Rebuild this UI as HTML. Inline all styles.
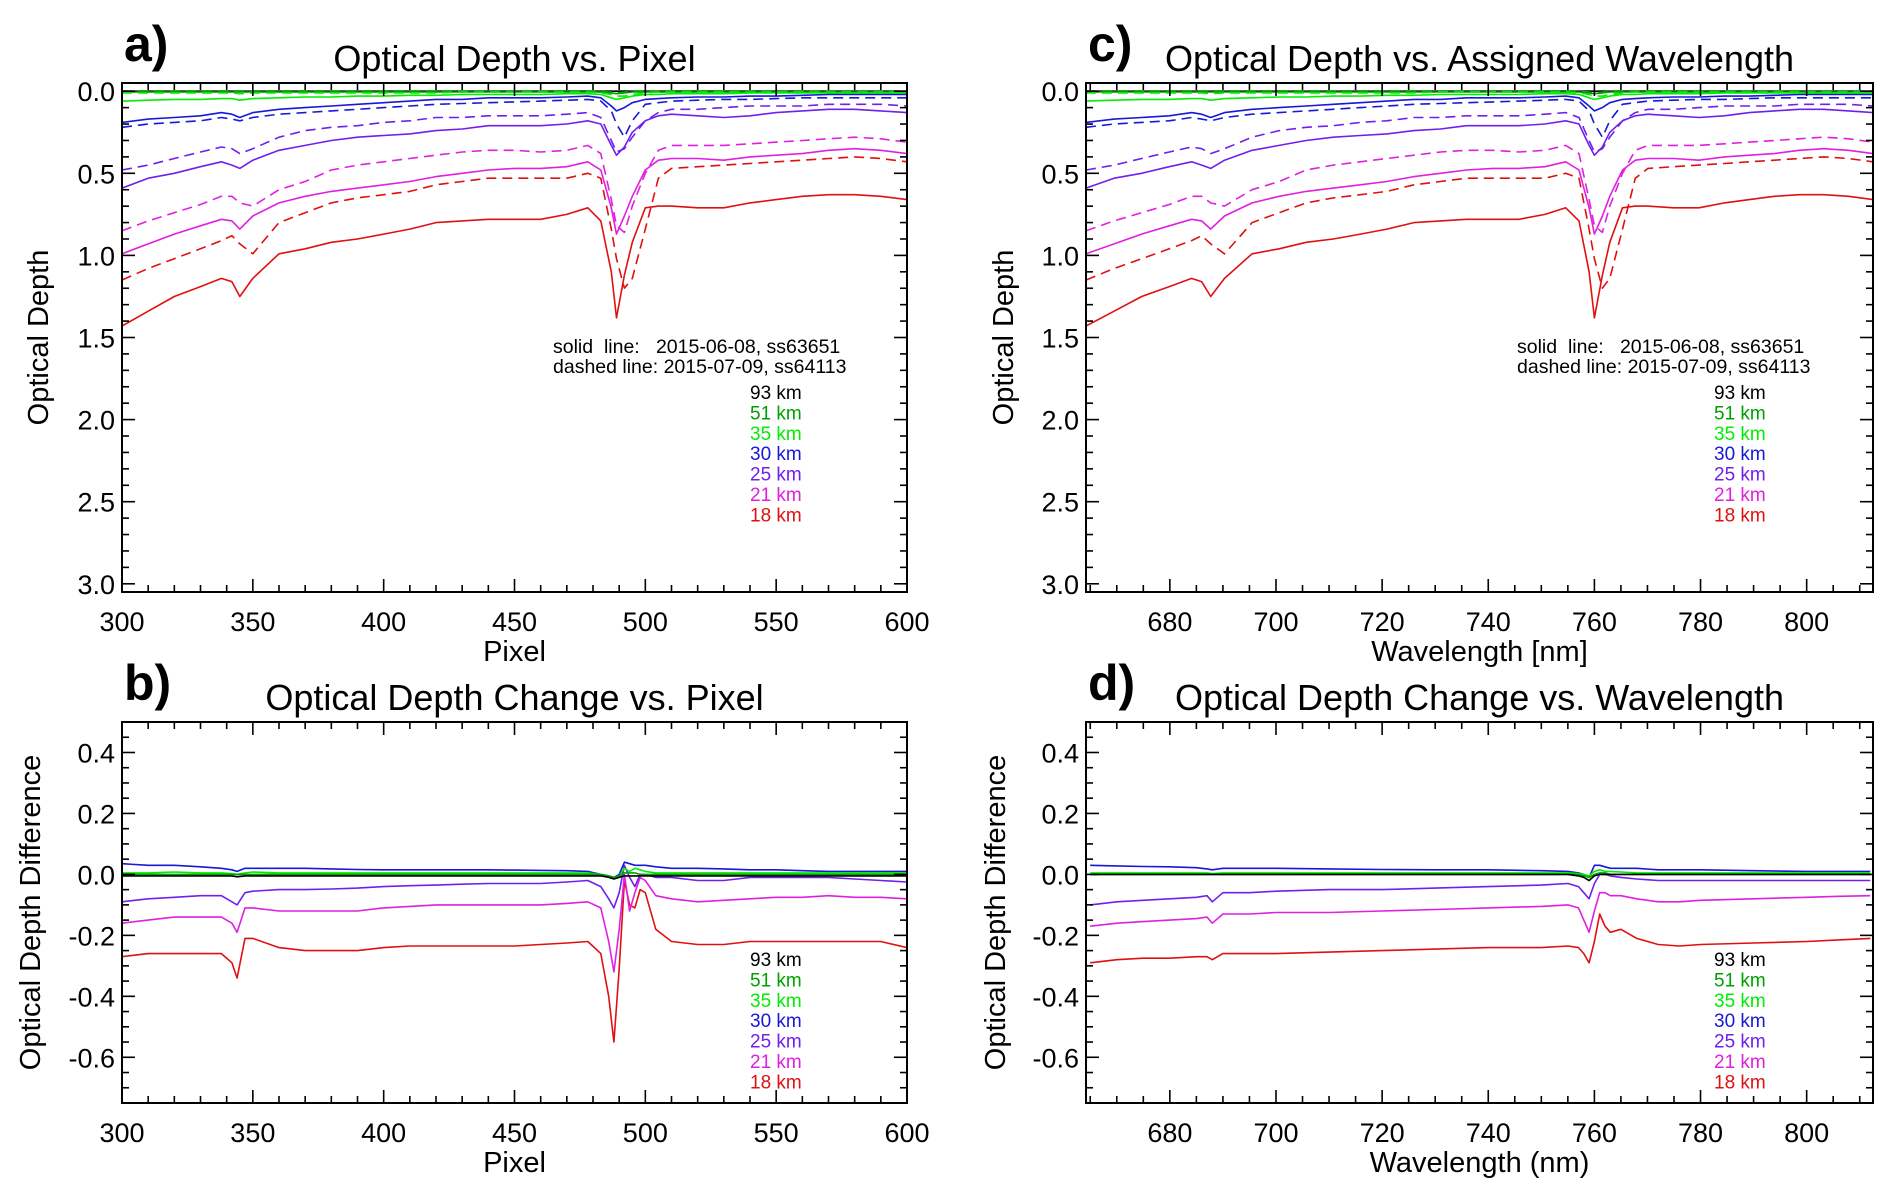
<!DOCTYPE html>
<html><head><meta charset="utf-8"><title>Optical Depth</title>
<style>
html,body{margin:0;padding:0;background:#fff;}
svg{display:block;font-family:"Liberation Sans",Arial,sans-serif;}
</style></head>
<body>
<svg id="fig" width="1892" height="1197" viewBox="0 0 1892 1197" xmlns="http://www.w3.org/2000/svg">
<rect x="0" y="0" width="1892" height="1197" fill="#fff"/>
<g id="g-a"></g>
<g id="g-b"></g>
<g id="g-c"></g>
<g id="g-d"></g>
</svg>
<script>
// ---- Panel a / c data (optical depth vs pixel; wavelength assigned per pixel) ----
const aPix = [300,310,320,330,338,342,345,350,360,370,380,390,400,410,420,430,440,450,460,470,478,483,487,489,492,495,500,505,510,520,530,540,550,560,570,580,590,600];
const aWl  = [664.2,669.5,674.7,679.9,684.1,686.0,687.7,690.3,695.5,700.6,705.7,710.8,715.9,720.9,726.0,731.0,735.9,740.9,745.8,750.7,754.6,757.1,759.0,760.0,761.5,762.9,765.3,767.7,770.1,774.9,779.7,784.5,789.2,793.9,798.6,803.2,807.9,812.5];
const altLabels = ["93 km","51 km","35 km","30 km","25 km","21 km","18 km"];
const altColors = ["#000000","#00a000","#00ee00","#1818d8","#7020ee","#e020e0","#e01010"];
const solid93 = [0,0,0,0,0,0,0,0,0,0,0,0,0,0,0,0,0,0,0,0,0,0,0,0,0,0,0,0,0,0,0,0,0,0,0,0,0,0];
const solid51 = [0.005,0.005,0.005,0.005,0.005,0.005,0.005,0.005,0.005,0.005,0.005,0.005,0.005,0.005,0.005,0.005,0.005,0.005,0.005,0.005,0.005,0.005,0.01,0.015,0.01,0.005,0.005,0.005,0.005,0.005,0.005,0.005,0.005,0.005,0.005,0.005,0.005,0.005];
const solid35 = [0.06,0.055,0.05,0.05,0.045,0.045,0.055,0.045,0.04,0.035,0.035,0.03,0.03,0.025,0.025,0.02,0.02,0.02,0.02,0.015,0.015,0.02,0.04,0.05,0.04,0.03,0.02,0.02,0.015,0.015,0.015,0.01,0.01,0.01,0.01,0.01,0.01,0.01];
const solid30 = [0.19,0.17,0.16,0.15,0.13,0.14,0.16,0.13,0.11,0.10,0.09,0.08,0.07,0.06,0.05,0.05,0.04,0.04,0.04,0.035,0.03,0.04,0.09,0.12,0.10,0.07,0.05,0.045,0.04,0.035,0.035,0.03,0.03,0.025,0.02,0.02,0.02,0.02];
const solid25 = [0.59,0.53,0.50,0.46,0.43,0.45,0.47,0.42,0.36,0.33,0.30,0.28,0.27,0.26,0.24,0.23,0.21,0.21,0.21,0.20,0.18,0.20,0.33,0.39,0.34,0.25,0.18,0.15,0.14,0.15,0.16,0.15,0.13,0.12,0.11,0.11,0.12,0.13];
const solid21 = [0.99,0.93,0.87,0.82,0.78,0.79,0.84,0.76,0.68,0.64,0.61,0.59,0.57,0.55,0.52,0.50,0.48,0.47,0.47,0.46,0.43,0.48,0.71,0.87,0.76,0.64,0.48,0.42,0.41,0.41,0.42,0.40,0.39,0.38,0.36,0.35,0.36,0.38];
const solid18 = [1.43,1.34,1.25,1.19,1.14,1.16,1.25,1.14,0.99,0.96,0.92,0.90,0.87,0.84,0.80,0.79,0.78,0.78,0.78,0.75,0.71,0.79,1.10,1.38,1.12,0.92,0.71,0.70,0.70,0.71,0.71,0.68,0.66,0.64,0.63,0.63,0.64,0.66];
const dash93 = [0,0,0,0,0,0,0,0,0,0,0,0,0,0,0,0,0,0,0,0,0,0,0,0,0,0,0,0,0,0,0,0,0,0,0,0,0,0];
const dash51 = [0,0,0,0,0,0,0,0,0,0,0,0,0,0,0,0,0,0,0,0,0,0,0.005,0.01,0.005,0,0,0,0,0,0,0,0,0,0,0,0,0];
const dash35 = [0.01,0.01,0.01,0.01,0.01,0.01,0.015,0.01,0.01,0.01,0.01,0.01,0.01,0.01,0.01,0.005,0.005,0.005,0.005,0.005,0.005,0.01,0.02,0.03,0.03,0.02,0.01,0.005,0.005,0.005,0.005,0.005,0.005,0.005,0.005,0.005,0.005,0.005];
const dash30 = [0.22,0.20,0.19,0.18,0.16,0.17,0.18,0.16,0.14,0.13,0.12,0.11,0.10,0.09,0.08,0.075,0.07,0.065,0.06,0.055,0.05,0.06,0.12,0.20,0.28,0.18,0.08,0.07,0.06,0.055,0.05,0.05,0.045,0.04,0.04,0.04,0.04,0.04];
const dash25 = [0.48,0.45,0.41,0.37,0.34,0.35,0.38,0.35,0.28,0.24,0.22,0.21,0.19,0.18,0.16,0.16,0.15,0.15,0.15,0.14,0.13,0.16,0.30,0.37,0.35,0.28,0.18,0.13,0.11,0.11,0.10,0.09,0.09,0.09,0.08,0.08,0.08,0.09];
const dash21 = [0.85,0.79,0.74,0.69,0.64,0.64,0.68,0.70,0.60,0.55,0.48,0.45,0.43,0.41,0.39,0.37,0.36,0.36,0.37,0.36,0.33,0.38,0.66,0.82,0.86,0.70,0.50,0.36,0.33,0.33,0.33,0.32,0.31,0.30,0.29,0.28,0.29,0.31];
const dash18 = [1.15,1.08,1.02,0.96,0.91,0.88,0.93,0.99,0.80,0.74,0.68,0.65,0.63,0.61,0.57,0.55,0.53,0.53,0.53,0.53,0.50,0.53,0.84,1.02,1.20,1.14,0.84,0.53,0.47,0.46,0.45,0.44,0.43,0.42,0.41,0.40,0.41,0.43];

// ---- Panel b data (difference vs pixel) ----
const bPix = [300,310,320,330,338,342,344,347,350,360,370,380,390,400,410,420,430,440,450,460,470,478,483,486,488,490,492,494,496,498,500,504,510,520,530,540,550,560,570,580,590,600];
const bDiff93 = [-0.005,-0.005,-0.005,-0.005,-0.005,-0.005,-0.008,-0.005,-0.005,-0.005,-0.005,-0.005,-0.005,-0.005,-0.005,-0.005,-0.005,-0.005,-0.005,-0.005,-0.005,-0.005,-0.005,-0.01,-0.015,-0.01,-0.005,-0.005,-0.005,-0.005,-0.005,-0.005,-0.005,-0.005,-0.005,-0.005,-0.005,-0.005,-0.005,-0.005,-0.005,-0.005];
const bDiff51 = [0,0,0,0,0,0,0,0,0,0,0,0,0,0,0,0,0,0,0,0,0,0,0,-0.005,-0.01,-0.005,0.005,0.005,0.005,0,0,0,0,0,0,0,0,0,0,0,0,0];
const bDiff35 = [0.005,0.005,0.008,0.005,0.005,0.003,0,0.005,0.008,0.005,0.005,0.005,0.005,0.005,0.005,0.005,0.005,0.005,0.005,0.005,0.005,0.005,0,-0.005,-0.01,-0.005,0.02,0.01,0.02,0.015,0.01,0.005,0.005,0.005,0.005,0.005,0.005,0.005,0.005,0.005,0.005,0.005];
const bDiff30 = [0.035,0.03,0.03,0.025,0.02,0.015,0.01,0.02,0.02,0.02,0.02,0.018,0.016,0.015,0.015,0.015,0.015,0.015,0.014,0.013,0.012,0.01,0,-0.005,-0.01,0,0.04,0.035,0.03,0.03,0.03,0.025,0.02,0.02,0.018,0.015,0.015,0.012,0.01,0.01,0.01,0.01];
const bDiff25 = [-0.09,-0.08,-0.075,-0.07,-0.07,-0.09,-0.10,-0.06,-0.055,-0.05,-0.05,-0.048,-0.045,-0.04,-0.037,-0.035,-0.032,-0.03,-0.03,-0.03,-0.025,-0.02,-0.04,-0.08,-0.11,-0.06,0.03,-0.01,-0.04,0,0,-0.01,-0.01,-0.02,-0.02,-0.01,-0.01,-0.01,-0.01,-0.015,-0.02,-0.025];
const bDiff21 = [-0.16,-0.15,-0.14,-0.14,-0.14,-0.16,-0.19,-0.11,-0.11,-0.12,-0.12,-0.12,-0.12,-0.11,-0.105,-0.10,-0.10,-0.10,-0.10,-0.10,-0.095,-0.09,-0.11,-0.22,-0.32,-0.18,0,-0.12,-0.06,-0.01,-0.02,-0.07,-0.08,-0.09,-0.085,-0.08,-0.075,-0.075,-0.07,-0.075,-0.075,-0.08];
const bDiff18 = [-0.27,-0.26,-0.26,-0.26,-0.26,-0.29,-0.34,-0.21,-0.21,-0.24,-0.25,-0.25,-0.25,-0.24,-0.235,-0.235,-0.235,-0.235,-0.235,-0.23,-0.225,-0.22,-0.26,-0.40,-0.55,-0.31,-0.02,-0.10,-0.11,-0.05,-0.06,-0.18,-0.22,-0.23,-0.23,-0.22,-0.22,-0.22,-0.22,-0.22,-0.22,-0.24];

// ---- Panel d data (difference vs wavelength) ----
const dWl = [665,670,675,680,685,687,688,690,695,700,710,720,730,740,750,755,757,758,759,760,761,762,763,765,768,772,776,780,790,800,806,812];
const dDiff93 = [0,0,0,0,0,0,0,0,0,0,0,0,0,0,0,0,-0.005,-0.01,-0.02,-0.005,0,0,0,0,0,0,0,0,0,0,0,0];
const dDiff51 = [0,0,0,0,0,0,0,0,0,0,0,0,0,0,0,0,0,-0.005,-0.01,0,0.005,0.005,0,0,0,0,0,0,0,0,0,0];
const dDiff35 = [0.005,0.005,0.005,0.005,0.005,0.005,0.003,0.005,0.005,0.005,0.005,0.005,0.005,0.005,0.005,0.005,0.003,0,-0.005,0.01,0.015,0.01,0.01,0.008,0.005,0.005,0.005,0.005,0.005,0.005,0.005,0.005];
const dDiff30 = [0.03,0.028,0.026,0.025,0.022,0.018,0.015,0.02,0.02,0.02,0.018,0.016,0.015,0.015,0.012,0.01,0.005,0,-0.01,0.03,0.03,0.025,0.02,0.02,0.02,0.015,0.015,0.015,0.012,0.01,0.01,0.01];
const dDiff25 = [-0.10,-0.09,-0.085,-0.08,-0.075,-0.07,-0.09,-0.06,-0.06,-0.055,-0.05,-0.05,-0.045,-0.04,-0.035,-0.03,-0.04,-0.06,-0.08,-0.03,0,0,-0.005,-0.01,-0.015,-0.02,-0.02,-0.02,-0.02,-0.02,-0.02,-0.02];
const dDiff21 = [-0.17,-0.16,-0.155,-0.15,-0.145,-0.14,-0.16,-0.13,-0.13,-0.125,-0.125,-0.12,-0.115,-0.11,-0.105,-0.10,-0.11,-0.15,-0.19,-0.12,-0.06,-0.06,-0.07,-0.07,-0.08,-0.09,-0.09,-0.085,-0.08,-0.075,-0.072,-0.07];
const dDiff18 = [-0.29,-0.28,-0.275,-0.275,-0.27,-0.27,-0.28,-0.26,-0.26,-0.26,-0.255,-0.25,-0.245,-0.24,-0.24,-0.235,-0.24,-0.26,-0.29,-0.22,-0.13,-0.17,-0.19,-0.18,-0.21,-0.23,-0.235,-0.23,-0.225,-0.22,-0.215,-0.21];

const pixTicks = [300,350,400,450,500,550,600];
const wlTicks = [680,700,720,740,760,780,800];
const odTicks = [0.0,0.5,1.0,1.5,2.0,2.5,3.0];
const diffTicks = [0.4,0.2,0.0,-0.2,-0.4,-0.6];

const NS = "http://www.w3.org/2000/svg";
function mk(tag, attrs, parent){
  const e = document.createElementNS(NS, tag);
  for (const k in attrs) e.setAttribute(k, attrs[k]);
  parent.appendChild(e);
  return e;
}
function txt(parent, x, y, s, size, anchor, fill, extra){
  const t = mk("text", {x:x, y:y, "font-size":size, "text-anchor":anchor||"start", fill:fill||"#000"}, parent);
  if (extra) for (const k in extra) t.setAttribute(k, extra[k]);
  t.setAttribute("xml:space","preserve");
  t.style.whiteSpace = "pre";
  t.textContent = s;
  return t;
}

function panel(g, P){
  const sx = v => P.L + (v - P.x0) / (P.x1 - P.x0) * (P.R - P.L);
  const sy = v => P.T + (P.yTop - v) / (P.yTop - P.yBot) * (P.B - P.T);
  const cp = mk("clipPath", {id: P.id + "-clip"}, g);
  mk("rect", {x:P.L, y:P.T, width:P.R-P.L, height:P.B-P.T}, cp);
  const sg = mk("g", {"clip-path":"url(#" + P.id + "-clip)"}, g);
  
  
  P.series.forEach(s => {
    let d = "";
    for (let i = 0; i < s.x.length; i++) d += (i ? "L" : "M") + sx(s.x[i]).toFixed(1) + "," + sy(s.y[i]).toFixed(1);
    const p = mk("path", {d:d, fill:"none", stroke:s.color, "stroke-width":"1.6", "stroke-linejoin":"round"}, sg);
    if (s.dash) p.setAttribute("stroke-dasharray", "10,6");
    
    
  });
  const fr = mk("rect", {x:P.L, y:P.T, width:P.R-P.L, height:P.B-P.T, fill:"none", stroke:"#000", "stroke-width":"2"}, g);
  
  
  const xt = mk("g", {stroke:"#000", "stroke-width":"1.6"}, g);
  
  
  const xStart = Math.ceil(P.x0 / P.xMinor) * P.xMinor;
  for (let v = xStart; v <= P.x1 + 1e-6; v += P.xMinor) {
    const X = sx(v);
    const major = Math.abs(v / P.xMajor - Math.round(v / P.xMajor)) < 1e-6;
    const len = major ? 13 : 7;
    mk("line", {x1:X, y1:P.B, x2:X, y2:P.B-len}, xt);
    mk("line", {x1:X, y1:P.T, x2:X, y2:P.T+len}, xt);
  }
  P.xTicks.forEach(v => {
    const t = txt(g, sx(v), P.B + 39, String(v), 27, "middle");
    
    
  });
  const yt = mk("g", {stroke:"#000", "stroke-width":"1.6"}, g);
  
  
  const lo = Math.min(P.yTop, P.yBot), hi = Math.max(P.yTop, P.yBot);
  for (let k = Math.ceil(lo / P.yMinor - 1e-6); k * P.yMinor <= hi + 1e-6; k++) {
    const v = k * P.yMinor;
    const Y = sy(v);
    const major = Math.abs(v / P.yMajor - Math.round(v / P.yMajor)) < 1e-6;
    const len = major ? 13 : 7;
    mk("line", {x1:P.L, y1:Y, x2:P.L+len, y2:Y}, yt);
    mk("line", {x1:P.R, y1:Y, x2:P.R-len, y2:Y}, yt);
  }
  P.yTicks.forEach(v => {
    const t = txt(g, P.L - 7, sy(v) + 10, v.toFixed(1), 27, "end");
    
    
  });
  const tt = txt(g, (P.L + P.R) / 2, P.T - 12, P.title, 36, "middle");
  
  
  const lt = txt(g, P.L + 2, P.T - 22, P.letter, 50, "start", "#000", {"font-weight":"bold"});
  
  
  const xl = txt(g, (P.L + P.R) / 2, P.B + 69, P.xLabel, 29, "middle");
  
  
  const yc = (P.T + P.B) / 2;
  const yl = txt(g, P.yLabelX, yc, P.yLabel, 29, "middle", "#000", {transform:"rotate(-90 " + P.yLabelX + " " + yc + ")"});
  
  
  const lg = mk("g", {}, g);
  
  
  let ly = P.legY;
  if (P.dateLegend) {
    const l1 = txt(lg, P.L + 431, ly, "solid  line:   2015-06-08, ss63651", 19.5, "start");
    
    
    const l2 = txt(lg, P.L + 431, ly + 20, "dashed line: 2015-07-09, ss64113", 19.5, "start");
    
    
    ly += 46;
  }
  altLabels.forEach((s, i) => {
    const e = txt(lg, P.L + 628, ly + i * 20.4, s, 19, "start", altColors[i]);
    
    
  });
}

const solids = [solid93, solid51, solid35, solid30, solid25, solid21, solid18];
const dashes = [dash93, dash51, dash35, dash30, dash25, dash21, dash18];
const bDiffs = [bDiff93, bDiff51, bDiff35, bDiff30, bDiff25, bDiff21, bDiff18];
const dDiffs = [dDiff93, dDiff51, dDiff35, dDiff30, dDiff25, dDiff21, dDiff18];

function odSeries(xs){
  const out = [];
  for (let i = 0; i < 7; i++) {
    out.push({x:xs, y:dashes[i], color:altColors[i], dash:true, name:"dashed-" + altLabels[i].replace(" ", "")});
    out.push({x:xs, y:solids[i], color:altColors[i], dash:false, name:"solid-" + altLabels[i].replace(" ", "")});
  }
  return out;
}
function diffSeries(xs, arrs){
  const out = [];
  for (let i = 6; i >= 0; i--) out.push({x:xs, y:arrs[i], color:altColors[i], dash:false, name:"diff-" + altLabels[i].replace(" ", "")});
  return out;
}

const topBox = {T:83, B:592, yTop:-0.05, yBot:3.05, yMajor:0.5, yMinor:0.1, yTicks:odTicks, yLabel:"Optical Depth", legY:353, dateLegend:true};
const botBox = {T:722, B:1103, yTop:0.5, yBot:-0.75, yMajor:0.2, yMinor:0.05, yTicks:diffTicks, yLabel:"Optical Depth Difference", legY:966, dateLegend:false};
const leftX = {L:122, R:907, x0:300, x1:600, xMajor:50, xMinor:10, xTicks:pixTicks};
const rightX = {L:1086, R:1873, x0:664.2, x1:812.5, xMajor:20, xMinor:5, xTicks:wlTicks};

panel(document.getElementById("g-a"), Object.assign({id:"pa", title:"Optical Depth vs. Pixel", letter:"a)", xLabel:"Pixel", yLabelX:48, series:odSeries(aPix)}, topBox, leftX));
panel(document.getElementById("g-b"), Object.assign({id:"pb", title:"Optical Depth Change vs. Pixel", letter:"b)", xLabel:"Pixel", yLabelX:40, series:diffSeries(bPix, bDiffs)}, botBox, leftX));
panel(document.getElementById("g-c"), Object.assign({id:"pc", title:"Optical Depth vs. Assigned Wavelength", letter:"c)", xLabel:"Wavelength [nm]", yLabelX:1013, series:odSeries(aWl)}, topBox, rightX));
panel(document.getElementById("g-d"), Object.assign({id:"pd", title:"Optical Depth Change vs. Wavelength", letter:"d)", xLabel:"Wavelength (nm)", yLabelX:1005, series:diffSeries(dWl, dDiffs)}, botBox, rightX));
</script>
</body></html>
